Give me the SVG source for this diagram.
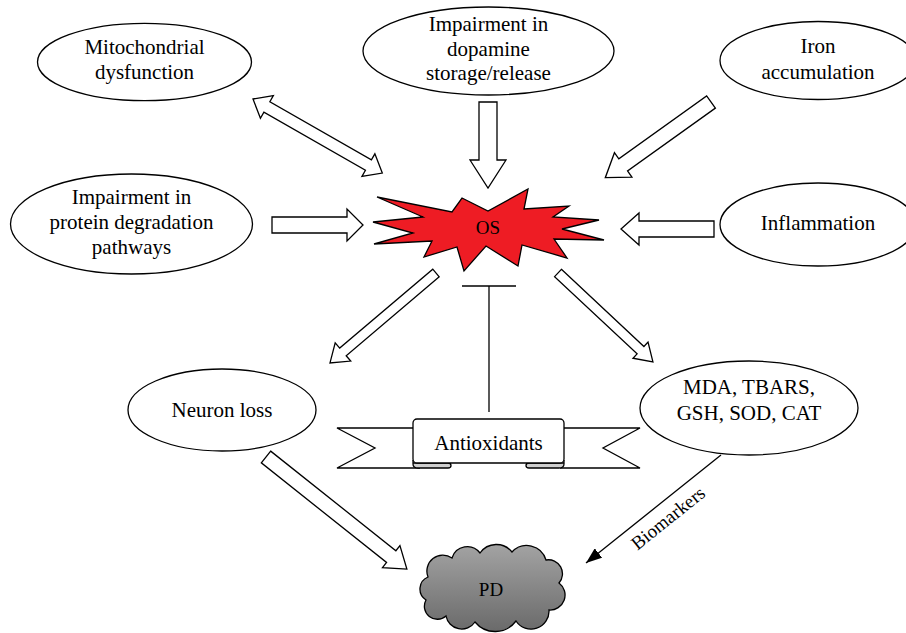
<svg xmlns="http://www.w3.org/2000/svg" width="906" height="633" viewBox="0 0 906 633" font-family="'Liberation Serif', 'DejaVu Serif', serif">
<style>
.node{fill:#fff;stroke:#000;stroke-width:1.3}
.t{font-family:"Liberation Serif","DejaVu Serif",serif;font-size:21px;text-anchor:middle;fill:#000}
.s19{font-size:19px}
.blk{fill:#fff;stroke:#000;stroke-width:1.3;stroke-linejoin:miter}
.ln{fill:none;stroke:#000;stroke-width:1.3}
</style>
<defs>
<linearGradient id="pdg" x1="0" y1="0" x2="0" y2="1">
<stop offset="0" stop-color="#a3a3a3"/>
<stop offset="1" stop-color="#6a6a6a"/>
</linearGradient>
<marker id="ah" viewBox="0 0 16 12" refX="16" refY="6" markerWidth="16" markerHeight="12" markerUnits="userSpaceOnUse" orient="auto">
<path d="M0,0 L16,6 L0,12 z" fill="#000"/>
</marker>
</defs>

<g id="connectors">
<polygon id="c-mito" class="blk" transform="translate(253,99) rotate(29.8)" points="0,0 16,-13 16,-6 133,-6 133,-13 149,0 133,13 133,6 16,6 16,13"/>
<polygon id="c-dopa" class="blk" transform="translate(488,102) rotate(90)" points="0,-9 58,-9 58,-18 86,0 58,18 58,9 0,9"/>
<polygon id="c-iron" class="blk" transform="translate(711,102) rotate(144.4)" points="0,-7.5 108,-7.5 108,-15 130,0 108,15 108,7.5 0,7.5"/>
<polygon id="c-prot" class="blk" transform="translate(272,225)" points="0,-8 75,-8 75,-16 91,0 75,16 75,8 0,8"/>
<polygon id="c-infl" class="blk" transform="translate(714,229) rotate(180)" points="0,-8 75,-8 75,-16 93,0 75,16 75,8 0,8"/>
<polygon id="c-neur" class="blk" transform="translate(436,273) rotate(139.7)" points="0,-5 122,-5 122,-12 139,0 122,12 122,5 0,5"/>
<polygon id="c-mda" class="blk" transform="translate(558,273) rotate(43.1)" points="0,-5 113,-5 113,-11 130,0 113,11 113,5 0,5"/>
<polygon id="c-pd" class="blk" transform="translate(266,457) rotate(38.5)" points="0,-7.5 160,-7.5 160,-14 180,0 160,14 160,7.5 0,7.5"/>
<line class="ln" x1="489" y1="286" x2="489" y2="412"/>
<line class="ln" x1="462" y1="286" x2="516" y2="286"/>
<line class="ln" x1="721" y1="455" x2="586" y2="563" marker-end="url(#ah)"/>
<text class="t s19" transform="translate(672,523) rotate(-38.7)">Biomarkers</text>
</g>

<g id="mito">
<ellipse class="node" cx="144.5" cy="62" rx="107" ry="38.7"/>
<text class="t" x="144.5" y="54">Mitochondrial</text>
<text class="t" x="144.5" y="79">dysfunction</text>
</g>

<g id="dopamine">
<ellipse class="node" cx="488.5" cy="51" rx="125.5" ry="44"/>
<text class="t" x="488.5" y="31">Impairment in</text>
<text class="t" x="488.5" y="56">dopamine</text>
<text class="t" x="488.5" y="80">storage/release</text>
</g>

<g id="iron">
<ellipse class="node" cx="818" cy="60.5" rx="98" ry="39"/>
<text class="t" x="818" y="53">Iron</text>
<text class="t" x="818" y="79">accumulation</text>
</g>

<g id="protein">
<ellipse class="node" cx="131.5" cy="224" rx="121" ry="50"/>
<text class="t" x="131.5" y="204">Impairment in</text>
<text class="t" x="131.5" y="229">protein degradation</text>
<text class="t" x="131.5" y="254">pathways</text>
</g>

<g id="inflammation">
<ellipse class="node" cx="818" cy="224.5" rx="98" ry="41.5"/>
<text class="t" x="818" y="230">Inflammation</text>
</g>

<g id="os">
<polygon fill="#ee1c24" stroke="#000" stroke-width="1.3" stroke-linejoin="miter" points="377,197 452,212 462,198 488,211 528,189 524,209 569,206 553,217 599,220 562,229 604,240 554,239 567,258 522,245 518,266 486,246 464,271 457,247 424,257 432,241 374,244 413,233 373,222 423,217"/>
<text class="t s19" x="488" y="234">OS</text>
</g>

<g id="neuron">
<ellipse class="node" cx="222" cy="410" rx="94" ry="41"/>
<text class="t" x="222" y="417">Neuron loss</text>
</g>

<g id="markers">
<ellipse class="node" cx="749" cy="408" rx="109" ry="47"/>
<text class="t" x="749" y="394">MDA, TBARS,</text>
<text class="t" x="749" y="420">GSH, SOD, CAT</text>
</g>

<g id="antioxidants">
<path d="M413,428 L337,428 L375,448 L337,468 L451,468 L451,428 Z" fill="#fff"/>
<path d="M564,428 L640,428 L603,448 L640,468 L526,468 L526,428 Z" fill="#fff"/>
<path class="ln" d="M413,428 L337,428 L375,448 L337,468 L420,468"/>
<path class="ln" d="M564,428 L640,428 L603,448 L640,468 L560,468"/>
<path d="M413,460 L413,464 Q413,468 418,468 L448,468 Q451,468 451,465.5 Q451,463 448,463 L413,463 Z" fill="#cfcfcf" stroke="#000" stroke-width="1.3"/>
<path d="M564,460 L564,464 Q564,468 559,468 L529,468 Q526,468 526,465.5 Q526,463 529,463 L564,463 Z" fill="#cfcfcf" stroke="#000" stroke-width="1.3"/>
<rect class="node" x="413" y="419" width="151" height="44" rx="4"/>
<text class="t" x="488.5" y="450">Antioxidants</text>
</g>

<g id="pd">
<path d="M426,600 A13,13 0 0 1 428,577 A16,16 0 0 1 452,558 A16,16 0 0 1 480,553 A20,20 0 0 1 512,552 A20,20 0 0 1 546,560 A14,14 0 0 1 559,583 A15,15 0 0 1 549,610 A18,18 0 0 1 516,621 A26,26 0 0 1 475,622 A16,16 0 0 1 446,616 A13,13 0 0 1 426,600 Z" fill="url(#pdg)" stroke="#000" stroke-width="1.3"/>
<text class="t s19" x="491" y="596">PD</text>
</g>
</svg>
